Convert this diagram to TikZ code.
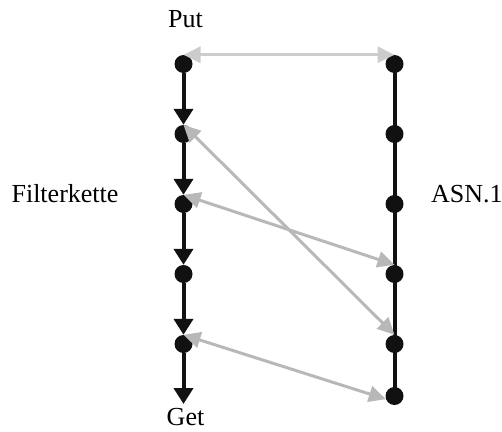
\documentclass[tikz,border=0pt]{standalone}
\usepackage{fontspec}
\setmainfont{Liberation Serif}
\usetikzlibrary{arrows.meta}
\definecolor{ink}{RGB}{17,17,17}
\definecolor{linkgray}{RGB}{184,184,184}
\definecolor{lightlink}{RGB}{204,204,204}
\tikzset{
  dot/.style={circle, fill=ink, inner sep=0pt, minimum size=18pt},
  chain/.style={draw=ink, line width=4pt, -{Triangle[length=16pt,width=19pt]}},
  rail/.style={draw=ink, line width=4pt},
  link/.style={draw=linkgray, line width=3pt,
    {Triangle[length=17pt,width=16pt]}-{Triangle[length=17pt,width=16pt]}},
  label/.style={font=\fontsize{26pt}{30pt}\selectfont, inner sep=0pt}
}
\begin{document}
\begin{tikzpicture}[x=1pt, y=-1pt]
\useasboundingbox (0,0) rectangle (502,431);

% left chain of filters
\node[dot] (l1) at (183.5,64) {};
\node[dot] (l2) at (183.5,134) {};
\node[dot] (l3) at (183.5,204) {};
\node[dot] (l4) at (183.5,274) {};
\node[dot] (l5) at (183.5,344) {};
\coordinate (lend) at (183.5,404);

% right ASN.1 column
\node[dot] (r1) at (394.5,64) {};
\node[dot] (r2) at (394.5,134) {};
\node[dot] (r3) at (394.5,204) {};
\node[dot] (r4) at (394.5,274) {};
\node[dot] (r5) at (394.5,344) {};
\node[dot] (r6) at (394.5,396) {};

\draw[rail] (r1.center) -- (r6.center);

\draw[chain] (l1) -- (l2);
\draw[chain] (l2) -- (l3);
\draw[chain] (l3) -- (l4);
\draw[chain] (l4) -- (l5);
\draw[chain] (l5) -- (lend);

% correspondences
\draw[link, draw=lightlink] (l1.north) -- (r1.north);
\draw[link] (l2.north) -- (r5.north);
\draw[link] (l3.north) -- (r4.north);
\draw[link] (l5.north) -- (r6.200);

% labels
\node[label, anchor=base] (put) at (185.5,27) {Put};
\node[label, anchor=base] (get) at (185.5,425) {Get};
\node[label, anchor=base] (filt) at (65,202) {Filterkette};
\node[label, anchor=base west] (asn) at (431,202) {ASN.1};
\end{tikzpicture}
\end{document}
